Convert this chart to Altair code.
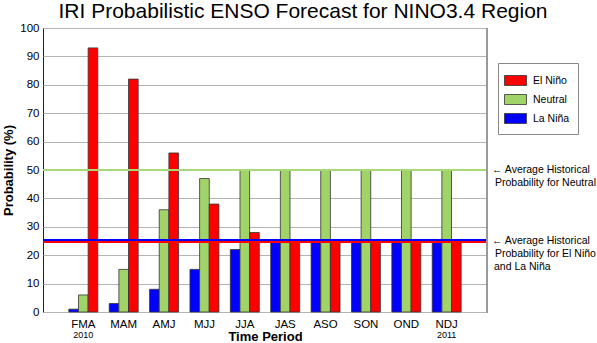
import altair as alt
import pandas as pd

periods = ["FMA", "MAM", "AMJ", "MJJ", "JJA", "JAS", "ASO", "SON", "OND", "NDJ"]
la_nina = [1, 3, 8, 15, 22, 25, 25, 25, 25, 25]
neutral = [6, 15, 36, 47, 50, 50, 50, 50, 50, 50]
el_nino = [93, 82, 56, 38, 28, 25, 25, 25, 25, 25]
series = ["El Niño", "Neutral", "La Niña"]
colors = ["#ff0000", "#a0d468", "#0000ff"]
years = [("FMA", "2010"), ("NDJ", "2011")]

rows = []
for i, p in enumerate(periods):
    rows.append({"period": p, "series": "La Niña", "value": la_nina[i]})
    rows.append({"period": p, "series": "Neutral", "value": neutral[i]})
    rows.append({"period": p, "series": "El Niño", "value": el_nino[i]})
df = pd.DataFrame(rows)
ydf = pd.DataFrame(years, columns=["period", "year"])

FONT = "Liberation Sans"
W, H = 444, 284

xscale = alt.Scale(domain=periods, paddingInner=0.283, paddingOuter=0.64)
yscale = alt.Scale(domain=[0, 100], nice=False)

xaxis = alt.Axis(title="Time Period", labelAngle=0, labelFontSize=11.5,
                 labelPadding=6, ticks=False, domain=False,
                 titleFontSize=13, titleFontWeight="bold", titlePadding=1,
                 labelColor="black", titleColor="black")
yaxis = alt.Axis(title="Probability (%)", values=list(range(0, 101, 10)),
                 labelFontSize=11.5, ticks=False, labelPadding=4,
                 labelOverlap=False,
                 grid=True, gridColor="#b4b4b4", domain=False,
                 titleFontSize=13, titleFontWeight="bold", titlePadding=4,
                 labelColor="black", titleColor="black")

bars = alt.Chart(df).mark_bar(stroke="#333333", strokeWidth=0.8).encode(
    x=alt.X("period:N", scale=xscale, sort=periods, axis=xaxis),
    xOffset=alt.XOffset("series:N", sort=["La Niña", "Neutral", "El Niño"],
                        scale=alt.Scale(paddingInner=0, paddingOuter=0)),
    y=alt.Y("value:Q", scale=yscale, axis=yaxis),
    color=alt.Color("series:N", scale=alt.Scale(domain=series, range=colors),
                    title=None,
                    legend=alt.Legend(orient="none", legendX=455, legendY=35,
                                      padding=8, strokeColor="#888888",
                                      fillColor="white",
                                      symbolType="M-1.257,-0.571H1.257V0.571H-1.257Z",
                                      symbolSize=306, symbolStrokeColor="#333333",
                                      symbolStrokeWidth=0.8, symbolOpacity=1,
                                      labelFontSize=10.5, labelOffset=8,
                                      rowPadding=2, labelColor="black")),
)

def hrule(v, color, off):
    return alt.Chart(pd.DataFrame({"value": [v]})).mark_rule(
        color=color, strokeWidth=2, yOffset=off).encode(
        y=alt.Y("value:Q", scale=yscale, axis=yaxis))

rule50 = hrule(50, "#a8d878", 0)
rule25b = hrule(25, "#0000ff", -1)
rule25r = hrule(25, "#ff0000", 1)

right_border = alt.Chart(pd.DataFrame({"a": [0]})).mark_rule(color="#999999", strokeWidth=2).encode(
    x=alt.value(W), y=alt.value(0), y2=alt.value(H))

year_text = alt.Chart(ydf).mark_text(fontSize=9, baseline="middle", font=FONT, color="black").encode(
    x=alt.X("period:N", scale=xscale, sort=periods, axis=xaxis),
    y=alt.value(H + 23),
    text="year:N")

def note(txt, yv, dy, xpx):
    return alt.Chart(pd.DataFrame({"t": [txt], "value": [yv]})).mark_text(
        align="left", baseline="middle", fontSize=10.5, font=FONT, color="black", dy=dy
    ).encode(x=alt.value(xpx), y=alt.Y("value:Q", scale=yscale, axis=yaxis), text="t:N")

notes = [
    note("← Average Historical", 50, 0, 449),
    note("Probability for Neutral", 50, 13, 452),
    note("← Average Historical", 25, 0, 449),
    note("Probability for El Niño", 25, 12.5, 452),
    note("and La Niña", 25, 25.5, 451),
]

chart = alt.layer(bars, rule50, rule25b, rule25r, right_border, year_text, *notes).properties(
    width=W, height=H,
    title=alt.TitleParams("IRI Probabilistic ENSO Forecast for NINO3.4 Region",
                          fontSize=21, fontWeight="normal", anchor="middle",
                          dx=38, offset=0, color="black", font=FONT),
    autosize=alt.AutoSizeParams(type="none"),
    padding={"left": 43, "top": 28, "right": 110, "bottom": 31},
).configure(font=FONT).configure_view(stroke="#222222", strokeWidth=1)

chart.save("out.html", embed_options={"renderer": "svg", "actions": False})
